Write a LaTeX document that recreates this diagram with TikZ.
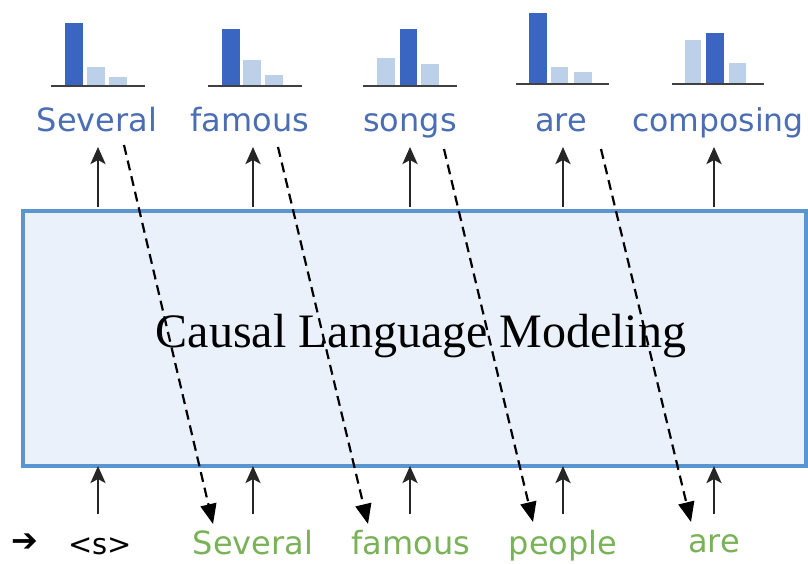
\documentclass[tikz,border=0pt]{standalone}
\usepackage{fontspec}
\setmainfont{Liberation Serif}
\newfontfamily\lblfont{DejaVu Sans}
\usetikzlibrary{arrows.meta}
\definecolor{boxblue}{HTML}{5B95D0}
\definecolor{boxfill}{HTML}{EAF1FA}
\definecolor{topblue}{HTML}{4A6DB4}
\definecolor{botgreen}{HTML}{79B257}
\definecolor{bardark}{HTML}{3A66C2}
\definecolor{barlight}{HTML}{BCD0EA}
\tikzset{
  toplbl/.style={font=\lblfont\fontsize{32}{34}\selectfont, text=topblue, inner sep=0pt, anchor=base},
  botlbl/.style={font=\lblfont\fontsize{32}{34}\selectfont, text=botgreen, inner sep=0pt, anchor=base},
  uparrow/.style={draw=black!85, line width=2.8pt, -{Stealth[length=17pt,width=15pt,inset=4pt]}},
  dasharrow/.style={draw=black, line width=2.2pt, dash pattern=on 10pt off 6pt, -{Triangle[length=20pt,width=16pt]}},
  darkbar/.style={fill=bardark, draw=none},
  lightbar/.style={fill=barlight, draw=none},
  baseline/.style={draw=black!75, line width=1.5pt},
}
\begin{document}
\begin{tikzpicture}[x=1pt,y=-1pt]
\useasboundingbox (0,0) rectangle (808,563);
% main box
\node[draw=boxblue, fill=boxfill, line width=4pt, minimum width=783pt, minimum height=255pt, inner sep=0pt, anchor=north west] (box) at (21,209) {};
\node[font=\fontsize{48}{50}\selectfont, inner sep=0pt] (title) at (421,336) {Causal Language Modeling};
% bar charts
% chart 1
\fill[darkbar] (65,86) rectangle (83,23);
\fill[lightbar] (87,86) rectangle (105,67);
\fill[lightbar] (109,86) rectangle (127,77);
\draw[baseline] (51,86) -- (145,86);
% chart 2
\fill[darkbar] (222,86) rectangle (240,29);
\fill[lightbar] (243,86) rectangle (261,60);
\fill[lightbar] (265,86) rectangle (283,75);
\draw[baseline] (208,86) -- (302,86);
% chart 3
\fill[lightbar] (377,86) rectangle (395,58);
\fill[darkbar] (400,86) rectangle (417,29);
\fill[lightbar] (421,86) rectangle (439,64);
\draw[baseline] (363,86) -- (457,86);
% chart 4
\fill[darkbar] (529,84) rectangle (547,13);
\fill[lightbar] (551,84) rectangle (568,67);
\fill[lightbar] (574,84) rectangle (592,72);
\draw[baseline] (516,84) -- (609,84);
% chart 5
\fill[lightbar] (685,84) rectangle (701,40);
\fill[darkbar] (706,84) rectangle (724,33);
\fill[lightbar] (729,84) rectangle (746,63);
\draw[baseline] (672,84) -- (764,84);
% top labels
\node[toplbl] (t1) at (97,131) {Several};
\node[toplbl] (t2) at (250,131) {famous};
\node[toplbl] (t3) at (410,131) {songs};
\node[toplbl] (t4) at (561,131) {are};
\node[font=\lblfont\fontsize{31.5}{34}\selectfont, text=topblue, inner sep=0pt, anchor=base] (t5) at (718,131) {composing};
% bottom labels
\node[font=\lblfont\fontsize{29}{31}\selectfont, text=black, inner sep=0pt, anchor=base] (b0) at (100,554) {<s>};
\node[font=\lblfont\fontsize{32}{34}\selectfont, text=black, inner sep=0pt, anchor=center] (start) at (25,543) {➔};
\node[botlbl] (b1) at (253,554) {Several};
\node[botlbl] (b2) at (411,554) {famous};
\node[botlbl] (b3) at (563,554) {people};
\node[botlbl] (b4) at (714,552) {are};
% top arrows
\foreach \i/\x in {1/98,2/253,3/410,4/563,5/714}{
  \coordinate (ts\i) at (\x,207);
  \coordinate (te\i) at (\x,147);
  \draw[uparrow] (ts\i) -- (te\i);
  \coordinate (bs\i) at (\x,514);
  \coordinate (be\i) at (\x,466);
  \draw[uparrow] (bs\i) -- (be\i);
}
% dashed arrows
\coordinate (d1s) at (124,145); \coordinate (d1e) at (213,524);
\coordinate (d2s) at (278,147); \coordinate (d2e) at (368,524);
\coordinate (d3s) at (444,149); \coordinate (d3e) at (533,522);
\coordinate (d4s) at (601,149); \coordinate (d4e) at (691,522);
\draw[dasharrow] (d1s) -- (d1e);
\draw[dasharrow] (d2s) -- (d2e);
\draw[dasharrow] (d3s) -- (d3e);
\draw[dasharrow] (d4s) -- (d4e);
\end{tikzpicture}
\end{document}
